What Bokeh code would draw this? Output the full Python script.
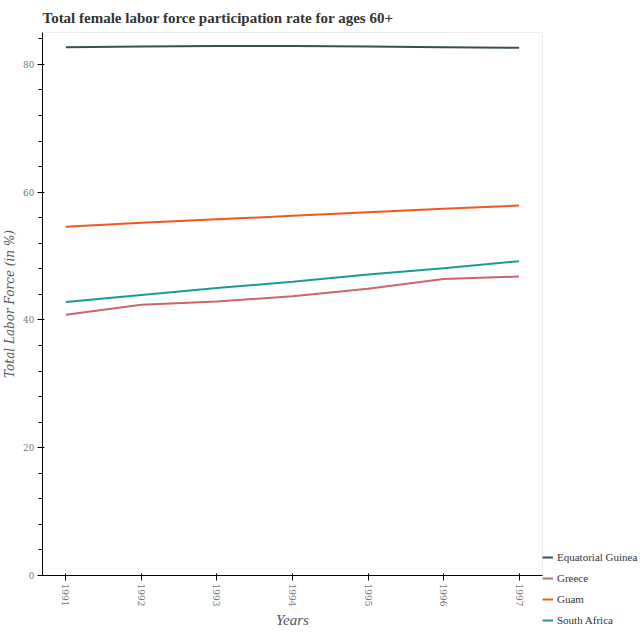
import math
from bokeh.plotting import figure
from bokeh.models import Legend, LegendItem, Range1d
from bokeh.embed import file_html
from bokeh.resources import INLINE

years = [1991, 1992, 1993, 1994, 1995, 1996, 1997]
eq_guinea = [82.7, 82.8, 82.9, 82.9, 82.8, 82.7, 82.6]
greece = [40.8, 42.4, 42.9, 43.7, 44.9, 46.4, 46.8]
guam = [54.6, 55.2, 55.75, 56.3, 56.85, 57.4, 57.9]
south_africa = [42.8, 43.9, 45.0, 46.0, 47.1, 48.1, 49.2]

series = [
    ("Equatorial Guinea", eq_guinea, "#37504f"),
    ("Greece", greece, "#cd6469"),
    ("Guam", guam, "#f0591e"),
    ("South Africa", south_africa, "#1a9a96"),
]

p = figure(frame_width=500, frame_height=543, output_backend="svg", toolbar_location=None,
           title="Total female labor force participation rate for ages 60+",
           x_range=Range1d(1990.69, 1997.31), y_range=Range1d(0, 85),
           min_border_left=0, min_border_right=0, min_border_bottom=0)

serif = "DejaVu Serif"
lib = "Liberation Serif"
p.title.text_font = lib
p.title.text_font_size = "15px"
p.title.text_font_style = "bold"
p.title.text_color = "#333333"
p.title.standoff = 14

items = []
for name, vals, col in series:
    r = p.line(years, vals, line_color=col, line_width=2)
    items.append(LegendItem(label=name, renderers=[r]))

legend = Legend(items=items, location=(0, -55))
legend.label_text_font = lib
legend.label_text_font_size = "11px"
legend.label_text_color = "#333333"
legend.border_line_color = None
legend.background_fill_alpha = 0
legend.glyph_width = 11
legend.label_standoff = 4
legend.spacing = 1
legend.margin = 0
legend.padding = 6
p.add_layout(legend, "right")

p.xgrid.visible = False
p.ygrid.visible = False
p.outline_line_color = "#eeeeee"

p.xaxis.ticker = years
p.xaxis.major_label_orientation = -math.pi / 2
p.xaxis.axis_label = "Years"
p.yaxis.axis_label = "Total Labor Force (in %)"
for ax in (p.xaxis, p.yaxis):
    ax.major_label_text_font = serif
    ax.major_label_text_font_size = "9px"
    ax.major_label_text_color = "#777777"
    ax.axis_label_text_font_style = "italic"
    ax.axis_label_text_color = "#555555"
    ax.axis_line_color = "black"
    ax.major_label_standoff = 3
    ax.axis_label_standoff = 3
    ax.major_tick_out = 5
p.xaxis.axis_label_text_font = lib
p.xaxis.axis_label_text_font_size = "15px"
p.yaxis.axis_label_text_font = serif
p.yaxis.axis_label_text_font_size = "12px"
p.xaxis.minor_tick_line_color = None
p.yaxis.ticker.desired_num_ticks = 5

open("out.html", "w").write(file_html(p, INLINE))
